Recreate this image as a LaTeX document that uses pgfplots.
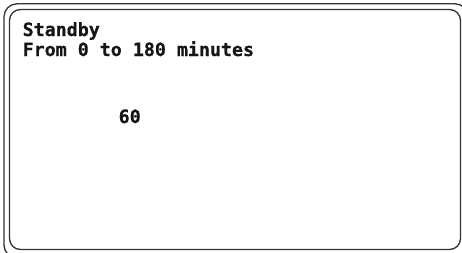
\documentclass[border=0pt]{standalone}
\usepackage{fontspec}
\usepackage{pgfplots}
\pgfplotsset{compat=1.18}
\newfontfamily\cardfont{DejaVu Sans Mono Bold}[FakeBold=0.6]
\definecolor{framec}{HTML}{333333}
\definecolor{textc}{HTML}{161616}
\begin{document}
\begin{tikzpicture}
\begin{axis}[
  at={(0,0)}, anchor=south west,
  scale only axis, width=462bp, height=253bp,
  xmin=0, xmax=462, ymin=0, ymax=253, y dir=reverse,
  hide axis, clip=true,
]
\draw[framec, line width=1.3bp, rounded corners=13bp] (axis cs:4,3.8) rectangle (axis cs:468,258);
\draw[framec, line width=1.3bp, rounded corners=11bp] (axis cs:9.5,9.5) rectangle (axis cs:460.5,249.5);
\node[anchor=base west, inner sep=0pt, text=textc, font=\cardfont\fontsize{18.3bp}{20bp}\selectfont] at (axis cs:22.5,36) {Standby};
\node[anchor=base west, inner sep=0pt, text=textc, font=\cardfont\fontsize{18.3bp}{20bp}\selectfont] at (axis cs:22.5,56) {From 0 to 180 minutes};
\addplot[draw=none, mark=none, nodes near coords, point meta=explicit symbolic,
  nodes near coords style={anchor=base west, inner sep=0pt, text=textc, font=\cardfont\fontsize{18.3bp}{20bp}\selectfont}]
  coordinates {(118.5,123) [60]};
\end{axis}
\pgfresetboundingbox
\path[use as bounding box] (0,0) rectangle (462bp,253bp);
\end{tikzpicture}
\end{document}
